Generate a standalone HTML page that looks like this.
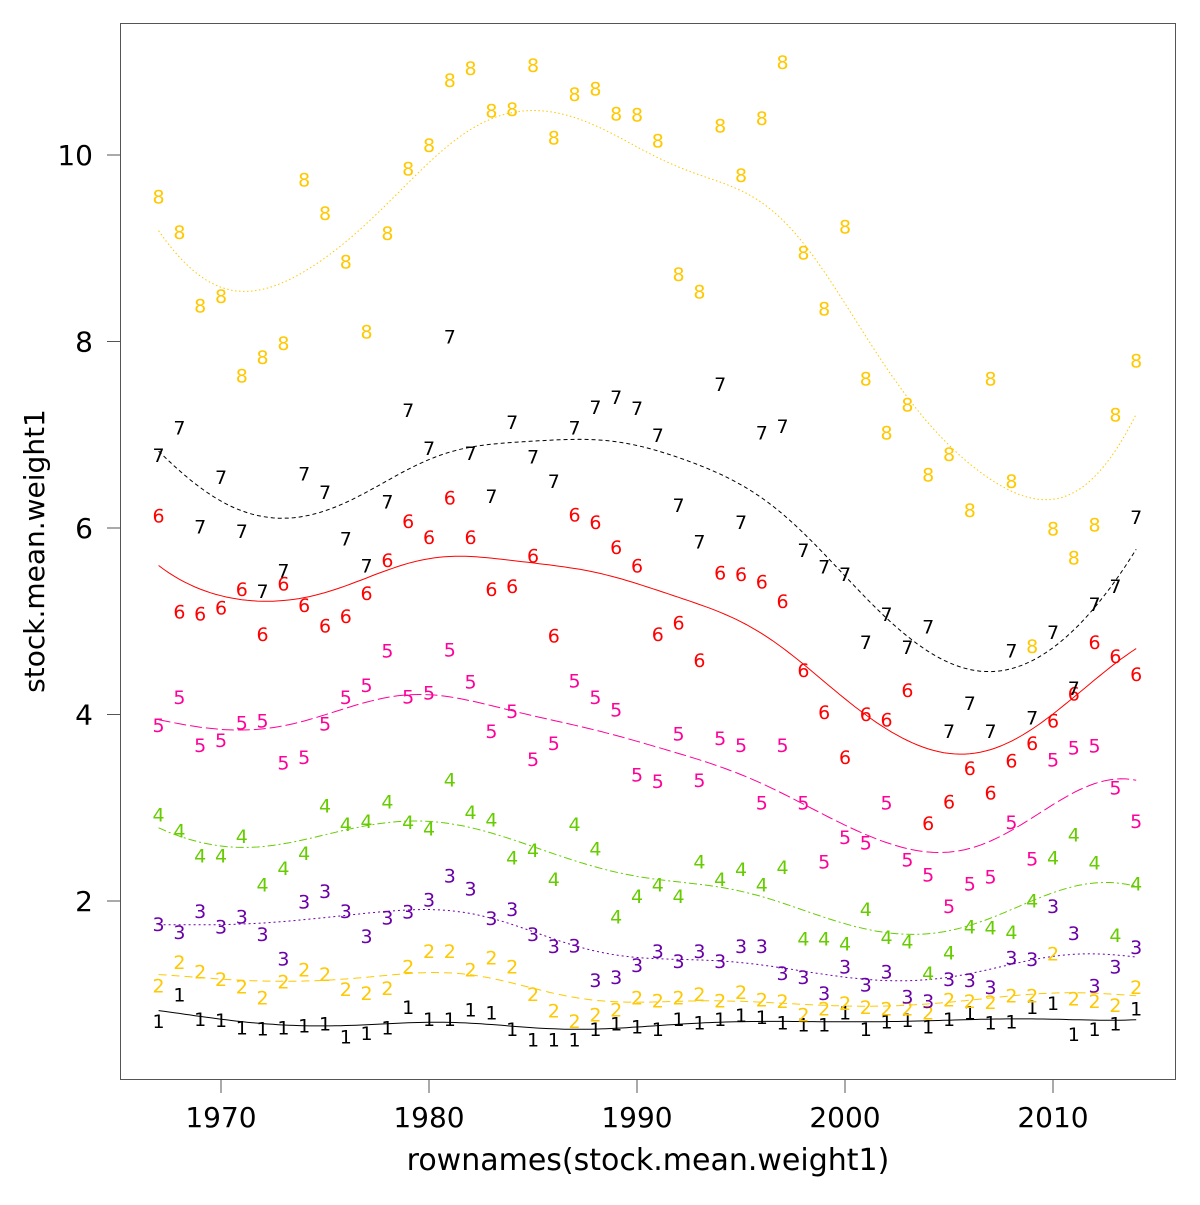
<!DOCTYPE html>
<html><head><meta charset="utf-8"><style>
html,body{margin:0;padding:0;background:#fff;}
svg text{font-family:"DejaVu Sans","Liberation Sans",sans-serif;}
</style></head><body>
<svg id="chart" width="1200" height="1200" viewBox="0 0 1200 1200" xmlns="http://www.w3.org/2000/svg">
<rect x="0" y="0" width="1200" height="1200" fill="#fff"/>
<rect x="120.5" y="23.5" width="1055" height="1056" fill="none" stroke="#555" stroke-width="1"/>
<g id="axes"></g>
<g id="lines"></g>
<g id="points"></g>
<text x="648" y="1170" font-size="30" text-anchor="middle">rownames(stock.mean.weight1)</text>
<text x="0" y="0" font-size="28" text-anchor="middle" transform="translate(44,551) rotate(-90)">stock.mean.weight1</text>
</svg>
<script>
const years = [];
for (let y = 1967; y <= 2014; y++) years.push(y);
const xTicks = [1970, 1980, 1990, 2000, 2010];
const yTicks = [2, 4, 6, 8, 10];
const s1 = [0.71,0.99,0.73,0.72,0.64,0.63,0.64,0.66,0.68,0.54,0.58,0.64,0.86,0.73,0.73,0.83,0.80,0.62,0.51,0.51,0.51,0.62,0.68,0.65,0.62,0.73,0.69,0.73,0.77,0.75,0.69,0.67,0.67,0.80,0.62,0.70,0.72,0.65,0.73,0.80,0.69,0.70,0.86,0.90,0.57,0.62,0.68,0.84];
const s2 = [1.09,1.34,1.24,1.16,1.08,0.96,1.13,1.26,1.21,1.05,1.01,1.06,1.29,1.46,1.46,1.26,1.39,1.29,1.00,0.82,0.71,0.78,0.83,0.96,0.93,0.96,1.00,0.93,1.02,0.94,0.92,0.78,0.84,0.90,0.86,0.84,0.84,0.80,0.94,0.92,0.91,0.98,0.98,1.43,0.95,0.92,0.88,1.07];
const s3 = [1.75,1.66,1.89,1.72,1.83,1.64,1.38,1.99,2.10,1.89,1.62,1.82,1.88,2.01,2.27,2.13,1.81,1.91,1.64,1.51,1.52,1.15,1.18,1.31,1.46,1.35,1.46,1.35,1.51,1.51,1.22,1.18,1.01,1.29,1.10,1.24,0.97,0.92,1.16,1.15,1.07,1.39,1.37,1.94,1.65,1.09,1.29,1.50];
const s4 = [2.92,2.75,2.48,2.48,2.69,2.17,2.35,2.51,3.02,2.82,2.85,3.06,2.84,2.77,3.30,2.95,2.87,2.46,2.54,2.23,2.82,2.56,1.83,2.05,2.17,2.05,2.42,2.23,2.34,2.17,2.36,1.59,1.59,1.54,1.91,1.61,1.56,1.22,1.44,1.72,1.71,1.66,2.00,2.46,2.71,2.41,1.63,2.18];
const s5 = [3.88,4.18,3.67,3.72,3.91,3.93,3.48,3.54,3.90,4.18,4.31,4.68,4.19,4.23,4.69,4.35,3.82,4.03,3.52,3.69,4.36,4.18,4.05,3.35,3.28,3.79,3.29,3.74,3.67,3.05,3.67,3.05,2.42,2.68,2.62,3.05,2.44,2.28,1.94,2.18,2.26,2.84,2.45,3.51,3.64,3.66,3.21,2.85];
const s6 = [6.13,5.10,5.08,5.14,5.34,4.86,5.40,5.17,4.95,5.05,5.30,5.65,6.07,5.90,6.32,5.90,5.34,5.37,5.70,4.84,6.14,6.06,5.79,5.59,4.86,4.98,4.58,5.52,5.50,5.42,5.21,4.47,4.02,3.54,4.00,3.94,4.26,2.83,3.06,3.42,3.16,3.50,3.69,3.93,4.22,4.77,4.62,4.43];
const s7 = [6.78,7.07,6.01,6.54,5.96,5.32,5.54,6.58,6.38,5.88,5.59,6.28,7.26,6.85,8.05,6.80,6.34,7.13,6.76,6.50,7.07,7.29,7.40,7.28,6.99,6.24,5.85,7.54,6.06,7.02,7.09,5.76,5.58,5.50,4.77,5.07,4.72,4.94,3.82,4.12,3.82,4.68,3.96,4.88,4.28,5.18,5.37,6.11];
const s8 = [9.55,9.17,8.38,8.48,7.63,7.83,7.98,9.73,9.37,8.85,8.10,9.16,9.85,10.10,10.80,10.93,10.47,10.49,10.96,10.18,10.65,10.71,10.44,10.43,10.15,8.72,8.53,10.31,9.78,10.39,10.99,8.95,8.35,9.23,7.60,7.02,7.32,6.57,6.79,6.19,7.60,6.50,4.73,5.99,5.68,6.03,7.21,7.79];
const seriesLabels = ["1","2","3","4","5","6","7","8"];
const series = [s1,s2,s3,s4,s5,s6,s7,s8];
const colors = ["#000000","#FFC800","#6A00A8","#66CC00","#FF0099","#FF0000","#000000","#FFC800"];
const dashes = ["", "8,5", "2,3", "8,3,2,3", "12,4", "", "4,3", "1.5,2.5"];

const NS = "http://www.w3.org/2000/svg";
const xS = v => 221 + (v - 1970) * 20.8;
const yS = v => 1087.5 - v * 93.25;

const axes = document.getElementById('axes');
function mk(tag, attrs, parent) {
  const e = document.createElementNS(NS, tag);
  for (const k in attrs) e.setAttribute(k, attrs[k]);
  parent.appendChild(e);
  return e;
}
xTicks.forEach(t => {
  const l = mk('line', {x1: xS(t), x2: xS(t), y1: 1079.5, y2: 1093, stroke: '#555'}, axes);
  
  
  const tx = mk('text', {x: xS(t), y: 1127, 'font-size': 28, 'text-anchor': 'middle'}, axes);
  tx.textContent = t;
  
  
});
yTicks.forEach(t => {
  const l = mk('line', {x1: 107, x2: 120.5, y1: yS(t), y2: yS(t), stroke: '#555'}, axes);
  
  
  const tx = mk('text', {x: 93, y: yS(t) + 10, 'font-size': 28, 'text-anchor': 'end'}, axes);
  tx.textContent = t;
  
  
});

function smooth(xs, ys, x0, h) {
  let sw=0, sx=0, sy=0, sxx=0, sxy=0;
  for (let i=0;i<xs.length;i++){
    const d=(xs[i]-x0)/h, w=Math.exp(-0.5*d*d);
    sw+=w; sx+=w*xs[i]; sy+=w*ys[i]; sxx+=w*xs[i]*xs[i]; sxy+=w*xs[i]*ys[i];
  }
  const mx=sx/sw, my=sy/sw, vx=sxx/sw-mx*mx, cxy=sxy/sw-mx*my;
  return my + (cxy/vx)*(x0-mx);
}

const linesG = document.getElementById('lines');
const ptsG = document.getElementById('points');
series.forEach((s, si) => {
  let d = '';
  for (let x = 1967; x <= 2014.001; x += 0.25) {
    const v = smooth(years, s, x, 3.3);
    d += (d ? 'L' : 'M') + xS(x).toFixed(1) + ',' + yS(v).toFixed(1);
  }
  const p = mk('path', {d: d, fill: 'none', stroke: colors[si], 'stroke-width': 1}, linesG);
  if (dashes[si]) p.setAttribute('stroke-dasharray', dashes[si]);
  
  
  s.forEach((v, i) => {
    const t = mk('text', {x: xS(years[i]), y: yS(v) + 6.5, 'font-size': 19, 'text-anchor': 'middle', fill: colors[si]}, ptsG);
    t.textContent = seriesLabels[si];
    
    
  });
});
</script>
</body></html>
